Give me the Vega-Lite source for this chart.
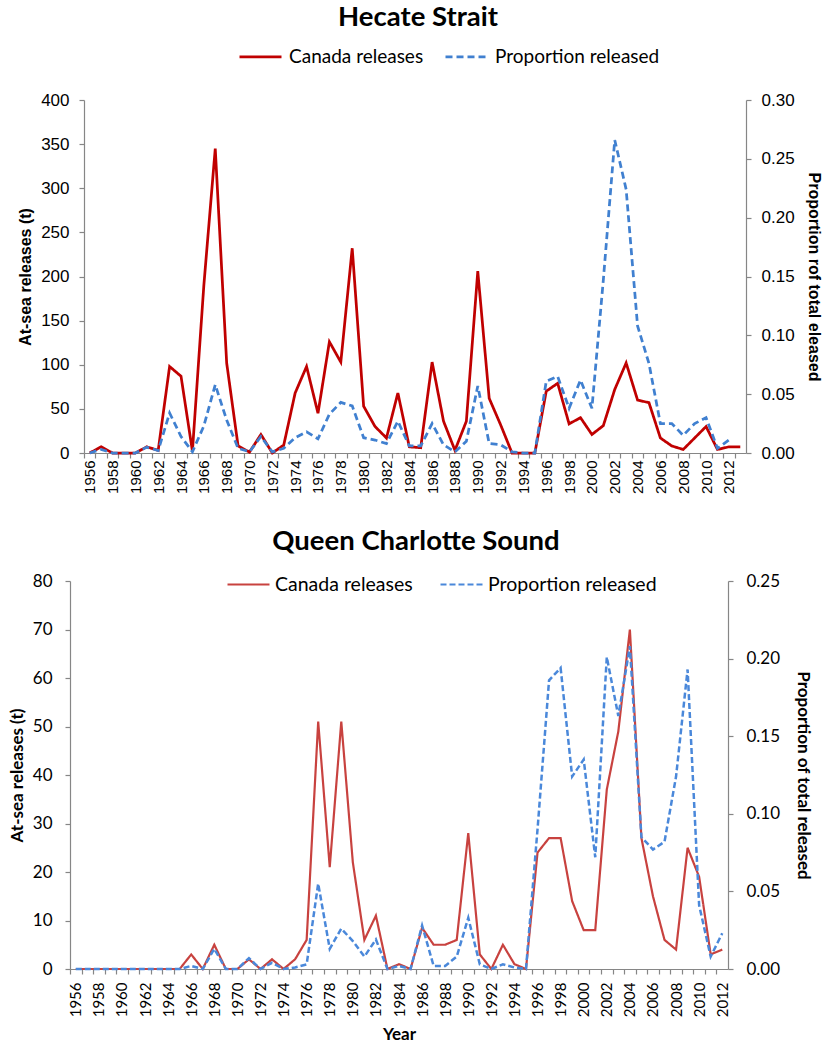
{
  "$schema": "https://vega.github.io/schema/vega-lite/v6.json",
  "padding": {"top": 4, "left": 8, "right": 4, "bottom": 4},
  "background": "white",
  "config": {
    "view": {"stroke": null},
    "font": "Lato",
    "axis": {"grid": false, "domainColor": "#868686", "tickColor": "#868686", "tickSize": 5, "labelColor": "#000", "titleColor": "#000", "domainWidth": 1.2, "tickWidth": 1.2},
    "axisX": {"labelOverlap": false},
    "legend": {"padding": 0, "labelLimit": 400}
  },
  "datasets": {
    "hs_rel": [
      {"year":1956,"value":0},{"year":1957,"value":7},{"year":1958,"value":0},{"year":1959,"value":0},{"year":1960,"value":0},
      {"year":1961,"value":7},{"year":1962,"value":3},{"year":1963,"value":98},{"year":1964,"value":87},{"year":1965,"value":2},
      {"year":1966,"value":190},{"year":1967,"value":345},{"year":1968,"value":102},{"year":1969,"value":8},{"year":1970,"value":1},
      {"year":1971,"value":21},{"year":1972,"value":0},{"year":1973,"value":9},{"year":1974,"value":68},{"year":1975,"value":98},
      {"year":1976,"value":45},{"year":1977,"value":126},{"year":1978,"value":103},{"year":1979,"value":232},{"year":1980,"value":53},
      {"year":1981,"value":30},{"year":1982,"value":17},{"year":1983,"value":68},{"year":1984,"value":7},{"year":1985,"value":6},
      {"year":1986,"value":103},{"year":1987,"value":36},{"year":1988,"value":3},{"year":1989,"value":36},{"year":1990,"value":206},
      {"year":1991,"value":62},{"year":1992,"value":32},{"year":1993,"value":0},{"year":1994,"value":0},{"year":1995,"value":0},
      {"year":1996,"value":70},{"year":1997,"value":79},{"year":1998,"value":33},{"year":1999,"value":40},{"year":2000,"value":21},
      {"year":2001,"value":31},{"year":2002,"value":72},{"year":2003,"value":102},{"year":2004,"value":60},{"year":2005,"value":57},
      {"year":2006,"value":17},{"year":2007,"value":8},{"year":2008,"value":4},{"year":2009,"value":17},{"year":2010,"value":30},
      {"year":2011,"value":4},{"year":2012,"value":7},{"year":2013,"value":7}
    ],
    "hs_prop": [
      {"year":1956,"value":0},{"year":1957,"value":0.003},{"year":1958,"value":0},{"year":1959,"value":0},{"year":1960,"value":0},
      {"year":1961,"value":0.005},{"year":1962,"value":0.002},{"year":1963,"value":0.034},{"year":1964,"value":0.014},{"year":1965,"value":0.001},
      {"year":1966,"value":0.023},{"year":1967,"value":0.058},{"year":1968,"value":0.028},{"year":1969,"value":0.004},{"year":1970,"value":0.001},
      {"year":1971,"value":0.014},{"year":1972,"value":0.001},{"year":1973,"value":0.004},{"year":1974,"value":0.013},{"year":1975,"value":0.018},
      {"year":1976,"value":0.012},{"year":1977,"value":0.033},{"year":1978,"value":0.043},{"year":1979,"value":0.040},{"year":1980,"value":0.013},
      {"year":1981,"value":0.011},{"year":1982,"value":0.008},{"year":1983,"value":0.027},{"year":1984,"value":0.006},{"year":1985,"value":0.006},
      {"year":1986,"value":0.025},{"year":1987,"value":0.007},{"year":1988,"value":0.001},{"year":1989,"value":0.010},{"year":1990,"value":0.057},
      {"year":1991,"value":0.008},{"year":1992,"value":0.007},{"year":1993,"value":0.001},{"year":1994,"value":0},{"year":1995,"value":0},
      {"year":1996,"value":0.061},{"year":1997,"value":0.065},{"year":1998,"value":0.038},{"year":1999,"value":0.062},{"year":2000,"value":0.038},
      {"year":2001,"value":0.147},{"year":2002,"value":0.266},{"year":2003,"value":0.224},{"year":2004,"value":0.108},{"year":2005,"value":0.076},
      {"year":2006,"value":0.025},{"year":2007,"value":0.025},{"year":2008,"value":0.015},{"year":2009,"value":0.025},{"year":2010,"value":0.030},
      {"year":2011,"value":0.004},{"year":2012,"value":0.011}
    ],
    "qcs_rel": [
      {"year":1956,"value":0},{"year":1957,"value":0},{"year":1958,"value":0},{"year":1959,"value":0},{"year":1960,"value":0},
      {"year":1961,"value":0},{"year":1962,"value":0},{"year":1963,"value":0},{"year":1964,"value":0},{"year":1965,"value":0},
      {"year":1966,"value":3},{"year":1967,"value":0},{"year":1968,"value":5},{"year":1969,"value":0},{"year":1970,"value":0},
      {"year":1971,"value":2},{"year":1972,"value":0},{"year":1973,"value":2},{"year":1974,"value":0},{"year":1975,"value":2},
      {"year":1976,"value":6},{"year":1977,"value":51},{"year":1978,"value":21},{"year":1979,"value":51},{"year":1980,"value":22},
      {"year":1981,"value":6},{"year":1982,"value":11},{"year":1983,"value":0},{"year":1984,"value":1},{"year":1985,"value":0},
      {"year":1986,"value":8.5},{"year":1987,"value":5},{"year":1988,"value":5},{"year":1989,"value":6},{"year":1990,"value":28},
      {"year":1991,"value":3},{"year":1992,"value":0},{"year":1993,"value":5},{"year":1994,"value":1},{"year":1995,"value":0},
      {"year":1996,"value":24},{"year":1997,"value":27},{"year":1998,"value":27},{"year":1999,"value":14},{"year":2000,"value":8},
      {"year":2001,"value":8},{"year":2002,"value":37},{"year":2003,"value":49},{"year":2004,"value":70},{"year":2005,"value":27},
      {"year":2006,"value":15},{"year":2007,"value":6},{"year":2008,"value":4},{"year":2009,"value":25},{"year":2010,"value":19},
      {"year":2011,"value":3},{"year":2012,"value":4}
    ],
    "qcs_prop": [
      {"year":1956,"value":0},{"year":1957,"value":0},{"year":1958,"value":0},{"year":1959,"value":0},{"year":1960,"value":0},
      {"year":1961,"value":0},{"year":1962,"value":0},{"year":1963,"value":0},{"year":1964,"value":0},{"year":1965,"value":0},
      {"year":1966,"value":0.002},{"year":1967,"value":0},{"year":1968,"value":0.013},{"year":1969,"value":0},{"year":1970,"value":0},
      {"year":1971,"value":0.007},{"year":1972,"value":0},{"year":1973,"value":0.004},{"year":1974,"value":0},{"year":1975,"value":0.001},
      {"year":1976,"value":0.003},{"year":1977,"value":0.055},{"year":1978,"value":0.013},{"year":1979,"value":0.026},{"year":1980,"value":0.018},
      {"year":1981,"value":0.008},{"year":1982,"value":0.019},{"year":1983,"value":0},{"year":1984,"value":0.002},{"year":1985,"value":0},
      {"year":1986,"value":0.028},{"year":1987,"value":0.002},{"year":1988,"value":0.002},{"year":1989,"value":0.008},{"year":1990,"value":0.033},
      {"year":1991,"value":0.003},{"year":1992,"value":0},{"year":1993,"value":0.003},{"year":1994,"value":0.001},{"year":1995,"value":0},
      {"year":1996,"value":0.09},{"year":1997,"value":0.186},{"year":1998,"value":0.194},{"year":1999,"value":0.124},{"year":2000,"value":0.135},
      {"year":2001,"value":0.072},{"year":2002,"value":0.201},{"year":2003,"value":0.163},{"year":2004,"value":0.208},{"year":2005,"value":0.085},
      {"year":2006,"value":0.077},{"year":2007,"value":0.082},{"year":2008,"value":0.124},{"year":2009,"value":0.193},{"year":2010,"value":0.041},
      {"year":2011,"value":0.008},{"year":2012,"value":0.023}
    ]
  },
  "resolve": {"scale": {"color": "independent", "strokeDash": "independent"}, "legend": {"color": "independent", "strokeDash": "independent"}},
  "spacing": 33,
  "vconcat": [
    {
      "width": 676,
      "height": 353,
      "title": {"text": "Hecate Strait", "font": "Lato", "fontSize": 27.5, "fontWeight": "bold", "color": "#000", "anchor": "middle", "frame": "group", "dx": 10, "offset": 2.5},
      "encoding": {
        "x": {"field": "year", "type": "quantitative",
          "scale": {"domain": [1955.5, 2013.5], "range": [14, 676], "nice": false, "zero": false},
          "axis": {"title": null, "values": [1956,1957,1958,1959,1960,1961,1962,1963,1964,1965,1966,1967,1968,1969,1970,1971,1972,1973,1974,1975,1976,1977,1978,1979,1980,1981,1982,1983,1984,1985,1986,1987,1988,1989,1990,1991,1992,1993,1994,1995,1996,1997,1998,1999,2000,2001,2002,2003,2004,2005,2006,2007,2008,2009,2010,2011,2012,2013],
            "format": "d", "labelExpr": "datum.value % 2 == 0 ? datum.label : ''", "labelAngle": -90, "labelFont": "Liberation Sans", "labelFontSize": 15, "labelPadding": 2, "tickOffset": -5.71, "labelOffset": 5.71, "labelOverlap": false, "labelBound": false, "labelFlush": false}}
      },
      "layer": [
        {
          "data": {"name": "hs_rel"},
          "mark": {"type": "line", "strokeWidth": 2.75},
          "encoding": {
            "y": {"field": "value", "type": "quantitative", "scale": {"domain": [0, 400], "nice": false},
              "axis": {"title": "At-sea releases (t)", "values": [0,50,100,150,200,250,300,350,400], "offset": -14, "labelFont": "Liberation Sans", "labelFontSize": 17, "labelPadding": 10, "titleFont": "Liberation Sans", "titleFontSize": 16, "titleFontWeight": "bold", "titlePadding": 7}},
            "color": {"datum": "Canada releases", "type": "nominal",
              "scale": {"domain": ["Canada releases", "Proportion released"], "range": ["#C00000", "#4080D0"]},
              "legend": {"title": null, "orient": "none", "legendX": 168, "legendY": -66, "direction": "horizontal", "symbolType": "stroke", "symbolSize": 1764, "symbolStrokeWidth": 2.75, "labelFont": "Lato", "labelFontSize": 19, "labelColor": "#000", "labelOffset": 6, "columnPadding": 16, "labelLimit": 400}},
            "strokeDash": {"datum": "Canada releases", "type": "nominal",
              "scale": {"domain": ["Canada releases", "Proportion released"], "range": [[1, 0], [7, 4]]},
              "legend": {"title": null, "orient": "none", "legendX": 168, "legendY": -66, "direction": "horizontal", "symbolType": "stroke", "symbolSize": 1764, "symbolStrokeWidth": 2.75, "labelFont": "Lato", "labelFontSize": 19, "labelColor": "#000", "labelOffset": 6, "columnPadding": 16, "labelLimit": 400}}
          }
        },
        {
          "data": {"name": "hs_prop"},
          "mark": {"type": "line", "strokeWidth": 2.75},
          "encoding": {
            "y": {"field": "value", "type": "quantitative", "scale": {"domain": [0, 0.3], "nice": false},
              "axis": {"orient": "right", "title": "Proportion rof total eleased", "values": [0,0.05,0.1,0.15,0.2,0.25,0.3], "format": ".2f", "labelFont": "Liberation Sans", "labelFontSize": 17, "labelPadding": 10, "titleFont": "Liberation Sans", "titleFontSize": 16, "titleFontWeight": "bold", "titlePadding": 11}},
            "color": {"datum": "Proportion released", "type": "nominal"},
            "strokeDash": {"datum": "Proportion released", "type": "nominal"}
          }
        }
      ],
      "resolve": {"scale": {"y": "independent"}}
    },
    {
      "width": 658,
      "height": 388,
      "title": {"text": "Queen Charlotte Sound", "font": "Lato", "fontSize": 27.5, "fontWeight": "bold", "color": "#000", "anchor": "middle", "frame": "group", "dx": 17, "offset": 7},
      "encoding": {
        "x": {"field": "year", "type": "quantitative",
          "scale": {"domain": [1955.5, 2012.5], "nice": false, "zero": false},
          "axis": {"title": "Year", "values": [1956,1957,1958,1959,1960,1961,1962,1963,1964,1965,1966,1967,1968,1969,1970,1971,1972,1973,1974,1975,1976,1977,1978,1979,1980,1981,1982,1983,1984,1985,1986,1987,1988,1989,1990,1991,1992,1993,1994,1995,1996,1997,1998,1999,2000,2001,2002,2003,2004,2005,2006,2007,2008,2009,2010,2011,2012],
            "format": "d", "labelExpr": "datum.value % 2 == 0 ? datum.label : ''", "labelAngle": -90, "labelFont": "Lato", "labelFontSize": 15, "labelPadding": 8, "tickOffset": -5.77, "labelOffset": 5.77, "labelOverlap": false, "labelBound": false, "labelFlush": false,
            "titleFont": "Lato", "titleFontSize": 17, "titleFontWeight": "bold", "titlePadding": 10}}
      },
      "layer": [
        {
          "data": {"name": "qcs_rel"},
          "mark": {"type": "line", "strokeWidth": 2.2},
          "encoding": {
            "y": {"field": "value", "type": "quantitative", "scale": {"domain": [0, 80], "nice": false},
              "axis": {"title": "At-sea releases (t)", "values": [0,10,20,30,40,50,60,70,80], "labelFont": "Lato", "labelFontSize": 17, "labelPadding": 13, "titleFont": "Lato", "titleFontSize": 17, "titleFontWeight": "bold", "titlePadding": 6}},
            "color": {"datum": "Canada releases", "type": "nominal",
              "scale": {"domain": ["Canada releases", "Proportion released"], "range": ["#C8423F", "#4A88DA"]},
              "legend": {"title": null, "orient": "none", "legendX": 156, "legendY": -19, "direction": "horizontal", "symbolType": "stroke", "symbolSize": 1764, "symbolStrokeWidth": 2.2, "labelFont": "Lato", "labelFontSize": 19.5, "labelColor": "#000", "labelOffset": 4, "columnPadding": 23, "labelLimit": 400}},
            "strokeDash": {"datum": "Canada releases", "type": "nominal",
              "scale": {"domain": ["Canada releases", "Proportion released"], "range": [[1, 0], [6, 3]]},
              "legend": {"title": null, "orient": "none", "legendX": 156, "legendY": -19, "direction": "horizontal", "symbolType": "stroke", "symbolSize": 1764, "symbolStrokeWidth": 2.2, "labelFont": "Lato", "labelFontSize": 19.5, "labelColor": "#000", "labelOffset": 4, "columnPadding": 23, "labelLimit": 400}}
          }
        },
        {
          "data": {"name": "qcs_prop"},
          "mark": {"type": "line", "strokeWidth": 2.5},
          "encoding": {
            "y": {"field": "value", "type": "quantitative", "scale": {"domain": [0, 0.25], "nice": false},
              "axis": {"orient": "right", "title": "Proportion of total released", "values": [0,0.05,0.1,0.15,0.2,0.25], "format": ".2f", "labelFont": "Lato", "labelFontSize": 17, "labelPadding": 13, "titleFont": "Lato", "titleFontSize": 17, "titleFontWeight": "bold", "titlePadding": 14}},
            "color": {"datum": "Proportion released", "type": "nominal"},
            "strokeDash": {"datum": "Proportion released", "type": "nominal"}
          }
        }
      ],
      "resolve": {"scale": {"y": "independent"}}
    }
  ]
}
